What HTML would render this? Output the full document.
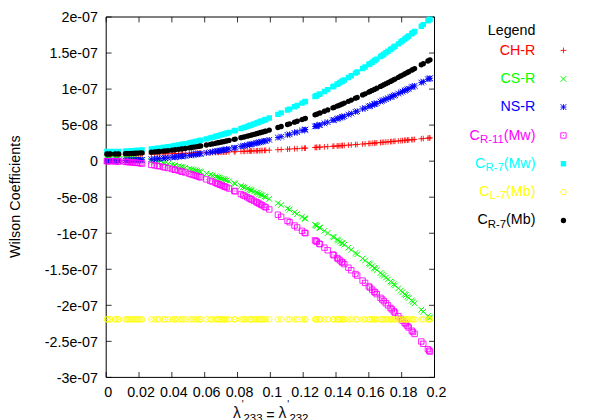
<!DOCTYPE html>
<html><head><meta charset="utf-8"><title>plot</title>
<style>
html,body{margin:0;padding:0;background:#fff;}
body{width:600px;height:420px;position:relative;overflow:hidden;font-family:"Liberation Sans",sans-serif;font-size:14.25px;color:#000;}
.t{position:absolute;white-space:nowrap;line-height:16px;height:16px;}
.yl{right:502.1px;text-align:right;}
.xl{width:60px;text-align:center;}
.lg{right:64.6px;text-align:right;}
.s{font-size:11.4px;position:relative;top:3.4px;}
</style></head><body>
<svg width="600" height="420" viewBox="0 0 600 420" style="position:absolute;left:0;top:0">
<path d="M106.2 17H434.5V377.4H106.2Z" fill="none" stroke="#000" stroke-width="1"/>
<path d="M106.2 17.00h5.4 M434.5 17.00h-5.4M106.20 377.4v-5.4 M106.20 17v5.4M106.2 53.04h5.4 M434.5 53.04h-5.4M139.03 377.4v-5.4 M139.03 17v5.4M106.2 89.08h5.4 M434.5 89.08h-5.4M171.86 377.4v-5.4 M171.86 17v5.4M106.2 125.12h5.4 M434.5 125.12h-5.4M204.69 377.4v-5.4 M204.69 17v5.4M106.2 161.16h5.4 M434.5 161.16h-5.4M237.52 377.4v-5.4 M237.52 17v5.4M106.2 197.20h5.4 M434.5 197.20h-5.4M270.35 377.4v-5.4 M270.35 17v5.4M106.2 233.24h5.4 M434.5 233.24h-5.4M303.18 377.4v-5.4 M303.18 17v5.4M106.2 269.28h5.4 M434.5 269.28h-5.4M336.01 377.4v-5.4 M336.01 17v5.4M106.2 305.32h5.4 M434.5 305.32h-5.4M368.84 377.4v-5.4 M368.84 17v5.4M106.2 341.36h5.4 M434.5 341.36h-5.4M401.67 377.4v-5.4 M401.67 17v5.4M106.2 377.40h5.4 M434.5 377.40h-5.4M434.50 377.4v-5.4 M434.50 17v5.4" fill="none" stroke="#000" stroke-width="0.8"/>
<path d="M104.05 154.31h5.7M106.9 151.46v5.7M104.75 154.31h5.7M107.6 151.46v5.7M106.85 154.31h5.7M109.7 151.46v5.7M107.45 154.31h5.7M110.3 151.46v5.7M112.05 154.3h5.7M114.9 151.45v5.7M112.75 154.3h5.7M115.6 151.45v5.7M114.95 154.29h5.7M117.8 151.44v5.7M115.85 154.29h5.7M118.7 151.44v5.7M122.55 154.25h5.7M125.4 151.4v5.7M124.15 154.24h5.7M127 151.39v5.7M125.25 154.24h5.7M128.1 151.39v5.7M126.75 154.23h5.7M129.6 151.38v5.7M128.65 154.21h5.7M131.5 151.36v5.7M130.55 154.2h5.7M133.4 151.35v5.7M132.35 154.18h5.7M135.2 151.33v5.7M133.85 154.17h5.7M136.7 151.32v5.7M135.45 154.15h5.7M138.3 151.3v5.7M137.55 154.13h5.7M140.4 151.28v5.7M139.25 154.11h5.7M142.1 151.26v5.7M148.45 153.99h5.7M151.3 151.14v5.7M151.65 153.95h5.7M154.5 151.1v5.7M154.45 153.9h5.7M157.3 151.05v5.7M156.45 153.87h5.7M159.3 151.02v5.7M160.35 153.8h5.7M163.2 150.95v5.7M162.15 153.77h5.7M165 150.92v5.7M165.15 153.71h5.7M168 150.86v5.7M169.15 153.63h5.7M172 150.78v5.7M171.85 153.58h5.7M174.7 150.73v5.7M172.35 153.57h5.7M175.2 150.72v5.7M175.65 153.49h5.7M178.5 150.64v5.7M178.45 153.43h5.7M181.3 150.58v5.7M179.65 153.4h5.7M182.5 150.55v5.7M182.45 153.33h5.7M185.3 150.48v5.7M186.55 153.23h5.7M189.4 150.38v5.7M188.65 153.17h5.7M191.5 150.32v5.7M190.65 153.12h5.7M193.5 150.27v5.7M192.75 153.06h5.7M195.6 150.21v5.7M194.45 153.01h5.7M197.3 150.16v5.7M196.45 152.96h5.7M199.3 150.11v5.7M197.85 152.91h5.7M200.7 150.06v5.7M203.55 152.74h5.7M206.4 149.89v5.7M207.45 152.62h5.7M210.3 149.77v5.7M209.55 152.55h5.7M212.4 149.7v5.7M212.65 152.44h5.7M215.5 149.59v5.7M214.35 152.38h5.7M217.2 149.53v5.7M215.65 152.34h5.7M218.5 149.49v5.7M217.35 152.28h5.7M220.2 149.43v5.7M219.05 152.22h5.7M221.9 149.37v5.7M220.75 152.16h5.7M223.6 149.31v5.7M222.15 152.1h5.7M225 149.25v5.7M223.75 152.04h5.7M226.6 149.19v5.7M226.15 151.95h5.7M229 149.1v5.7M231.35 151.75h5.7M234.2 148.9v5.7M232.35 151.71h5.7M235.2 148.86v5.7M238.05 151.47h5.7M240.9 148.62v5.7M240.35 151.38h5.7M243.2 148.53v5.7M241.85 151.31h5.7M244.7 148.46v5.7M244.35 151.2h5.7M247.2 148.35v5.7M246.45 151.11h5.7M249.3 148.26v5.7M247.75 151.05h5.7M250.6 148.2v5.7M248.85 151h5.7M251.7 148.15v5.7M251.15 150.89h5.7M254 148.04v5.7M253.45 150.79h5.7M256.3 147.94v5.7M254.65 150.73h5.7M257.5 147.88v5.7M256.45 150.64h5.7M259.3 147.79v5.7M258.15 150.56h5.7M261 147.71v5.7M259.35 150.5h5.7M262.2 147.65v5.7M261.65 150.39h5.7M264.5 147.54v5.7M262.85 150.33h5.7M265.7 147.48v5.7M266.45 150.15h5.7M269.3 147.3v5.7M275.05 149.7h5.7M277.9 146.85v5.7M278.35 149.52h5.7M281.2 146.67v5.7M284.65 149.17h5.7M287.5 146.32v5.7M286.75 149.05h5.7M289.6 146.2v5.7M291.65 148.76h5.7M294.5 145.91v5.7M294.35 148.6h5.7M297.2 145.75v5.7M299.15 148.31h5.7M302 145.46v5.7M301.75 148.15h5.7M304.6 145.3v5.7M302.55 148.1h5.7M305.4 145.25v5.7M312.15 147.49h5.7M315 144.64v5.7M313.15 147.42h5.7M316 144.57v5.7M313.95 147.37h5.7M316.8 144.52v5.7M316.45 147.21h5.7M319.3 144.36v5.7M317.15 147.16h5.7M320 144.31v5.7M321.55 146.86h5.7M324.4 144.01v5.7M324.85 146.63h5.7M327.7 143.78v5.7M330.05 146.27h5.7M332.9 143.42v5.7M331.05 146.2h5.7M333.9 143.35v5.7M334.25 145.97h5.7M337.1 143.12v5.7M335.35 145.89h5.7M338.2 143.04v5.7M337.15 145.76h5.7M340 142.91v5.7M338.95 145.63h5.7M341.8 142.78v5.7M339.65 145.57h5.7M342.5 142.72v5.7M341.45 145.44h5.7M344.3 142.59v5.7M345.55 145.13h5.7M348.4 142.28v5.7M348.45 144.91h5.7M351.3 142.06v5.7M352.65 144.59h5.7M355.5 141.74v5.7M354.35 144.45h5.7M357.2 141.6v5.7M359.75 144.02h5.7M362.6 141.17v5.7M362.25 143.82h5.7M365.1 140.97v5.7M365.95 143.52h5.7M368.8 140.67v5.7M367.15 143.42h5.7M370 140.57v5.7M369.35 143.24h5.7M372.2 140.39v5.7M371.45 143.06h5.7M374.3 140.21v5.7M372.25 143h5.7M375.1 140.15v5.7M373.95 142.85h5.7M376.8 140v5.7M377.65 142.54h5.7M380.5 139.69v5.7M379.35 142.39h5.7M382.2 139.54v5.7M380.95 142.25h5.7M383.8 139.4v5.7M383.05 142.07h5.7M385.9 139.22v5.7M385.15 141.89h5.7M388 139.04v5.7M387.65 141.66h5.7M390.5 138.81v5.7M388.95 141.55h5.7M391.8 138.7v5.7M390.95 141.37h5.7M393.8 138.52v5.7M392.15 141.26h5.7M395 138.41v5.7M395.45 140.96h5.7M398.3 138.11v5.7M397.95 140.73h5.7M400.8 137.88v5.7M399.65 140.57h5.7M402.5 137.72v5.7M401.75 140.38h5.7M404.6 137.53v5.7M402.95 140.27h5.7M405.8 137.42v5.7M404.65 140.11h5.7M407.5 137.26v5.7M405.95 139.98h5.7M408.8 137.13v5.7M408.85 139.71h5.7M411.7 136.86v5.7M410.05 139.59h5.7M412.9 136.74v5.7M411.75 139.43h5.7M414.6 136.58v5.7M418.45 138.77h5.7M421.3 135.92v5.7M420.45 138.58h5.7M423.3 135.73v5.7M425.05 138.12h5.7M427.9 135.27v5.7M426.35 137.99h5.7M429.2 135.14v5.7M427.15 137.9h5.7M430 135.05v5.7M560.6 50.4h5.7M563.45 47.55v5.7" fill="none" stroke="#ff0000" stroke-width="0.85"/>
<path d="M104.05 155.43l5.7 5.7M104.05 161.13l5.7 -5.7M104.75 155.43l5.7 5.7M104.75 161.13l5.7 -5.7M106.85 155.45l5.7 5.7M106.85 161.15l5.7 -5.7M107.45 155.45l5.7 5.7M107.45 161.15l5.7 -5.7M112.05 155.54l5.7 5.7M112.05 161.24l5.7 -5.7M112.75 155.56l5.7 5.7M112.75 161.26l5.7 -5.7M114.95 155.63l5.7 5.7M114.95 161.33l5.7 -5.7M115.85 155.67l5.7 5.7M115.85 161.37l5.7 -5.7M122.55 155.99l5.7 5.7M122.55 161.69l5.7 -5.7M124.15 156.09l5.7 5.7M124.15 161.79l5.7 -5.7M125.25 156.16l5.7 5.7M125.25 161.86l5.7 -5.7M126.75 156.26l5.7 5.7M126.75 161.96l5.7 -5.7M128.65 156.4l5.7 5.7M128.65 162.1l5.7 -5.7M130.55 156.55l5.7 5.7M130.55 162.25l5.7 -5.7M132.35 156.71l5.7 5.7M132.35 162.41l5.7 -5.7M133.85 156.85l5.7 5.7M133.85 162.55l5.7 -5.7M135.45 157l5.7 5.7M135.45 162.7l5.7 -5.7M137.55 157.21l5.7 5.7M137.55 162.91l5.7 -5.7M139.25 157.39l5.7 5.7M139.25 163.09l5.7 -5.7M148.45 158.53l5.7 5.7M148.45 164.23l5.7 -5.7M151.65 158.98l5.7 5.7M151.65 164.68l5.7 -5.7M154.45 159.41l5.7 5.7M154.45 165.11l5.7 -5.7M156.45 159.73l5.7 5.7M156.45 165.43l5.7 -5.7M160.35 160.38l5.7 5.7M160.35 166.08l5.7 -5.7M162.15 160.7l5.7 5.7M162.15 166.4l5.7 -5.7M165.15 161.25l5.7 5.7M165.15 166.95l5.7 -5.7M169.15 162.03l5.7 5.7M169.15 167.73l5.7 -5.7M171.85 162.58l5.7 5.7M171.85 168.28l5.7 -5.7M172.35 162.69l5.7 5.7M172.35 168.39l5.7 -5.7M175.65 163.4l5.7 5.7M175.65 169.1l5.7 -5.7M178.45 164.03l5.7 5.7M178.45 169.73l5.7 -5.7M179.65 164.3l5.7 5.7M179.65 170l5.7 -5.7M182.45 164.97l5.7 5.7M182.45 170.67l5.7 -5.7M186.55 165.98l5.7 5.7M186.55 171.68l5.7 -5.7M188.65 166.52l5.7 5.7M188.65 172.22l5.7 -5.7M190.65 167.05l5.7 5.7M190.65 172.75l5.7 -5.7M192.75 167.61l5.7 5.7M192.75 173.31l5.7 -5.7M194.45 168.08l5.7 5.7M194.45 173.78l5.7 -5.7M196.45 168.64l5.7 5.7M196.45 174.34l5.7 -5.7M197.85 169.04l5.7 5.7M197.85 174.74l5.7 -5.7M203.55 170.74l5.7 5.7M203.55 176.44l5.7 -5.7M207.45 171.95l5.7 5.7M207.45 177.65l5.7 -5.7M209.55 172.62l5.7 5.7M209.55 178.32l5.7 -5.7M212.65 173.64l5.7 5.7M212.65 179.34l5.7 -5.7M214.35 174.21l5.7 5.7M214.35 179.91l5.7 -5.7M215.65 174.66l5.7 5.7M215.65 180.36l5.7 -5.7M217.35 175.24l5.7 5.7M217.35 180.94l5.7 -5.7M219.05 175.84l5.7 5.7M219.05 181.54l5.7 -5.7M220.75 176.44l5.7 5.7M220.75 182.14l5.7 -5.7M222.15 176.95l5.7 5.7M222.15 182.65l5.7 -5.7M223.75 177.53l5.7 5.7M223.75 183.23l5.7 -5.7M226.15 178.42l5.7 5.7M226.15 184.12l5.7 -5.7M231.35 180.41l5.7 5.7M231.35 186.11l5.7 -5.7M232.35 180.8l5.7 5.7M232.35 186.5l5.7 -5.7M238.05 183.09l5.7 5.7M238.05 188.79l5.7 -5.7M240.35 184.05l5.7 5.7M240.35 189.75l5.7 -5.7M241.85 184.68l5.7 5.7M241.85 190.38l5.7 -5.7M244.35 185.74l5.7 5.7M244.35 191.44l5.7 -5.7M246.45 186.65l5.7 5.7M246.45 192.35l5.7 -5.7M247.75 187.22l5.7 5.7M247.75 192.92l5.7 -5.7M248.85 187.71l5.7 5.7M248.85 193.41l5.7 -5.7M251.15 188.74l5.7 5.7M251.15 194.44l5.7 -5.7M253.45 189.78l5.7 5.7M253.45 195.48l5.7 -5.7M254.65 190.33l5.7 5.7M254.65 196.03l5.7 -5.7M256.45 191.17l5.7 5.7M256.45 196.87l5.7 -5.7M258.15 191.97l5.7 5.7M258.15 197.67l5.7 -5.7M259.35 192.53l5.7 5.7M259.35 198.23l5.7 -5.7M261.65 193.64l5.7 5.7M261.65 199.34l5.7 -5.7M262.85 194.22l5.7 5.7M262.85 199.92l5.7 -5.7M266.45 195.99l5.7 5.7M266.45 201.69l5.7 -5.7M275.05 200.38l5.7 5.7M275.05 206.08l5.7 -5.7M278.35 202.12l5.7 5.7M278.35 207.82l5.7 -5.7M284.65 205.55l5.7 5.7M284.65 211.25l5.7 -5.7M286.75 206.71l5.7 5.7M286.75 212.41l5.7 -5.7M291.65 209.49l5.7 5.7M291.65 215.19l5.7 -5.7M294.35 211.05l5.7 5.7M294.35 216.75l5.7 -5.7M299.15 213.88l5.7 5.7M299.15 219.58l5.7 -5.7M301.75 215.45l5.7 5.7M301.75 221.15l5.7 -5.7M302.55 215.93l5.7 5.7M302.55 221.63l5.7 -5.7M312.15 221.9l5.7 5.7M312.15 227.6l5.7 -5.7M313.15 222.54l5.7 5.7M313.15 228.24l5.7 -5.7M313.95 223.05l5.7 5.7M313.95 228.75l5.7 -5.7M316.45 224.67l5.7 5.7M316.45 230.37l5.7 -5.7M317.15 225.13l5.7 5.7M317.15 230.83l5.7 -5.7M321.55 228.02l5.7 5.7M321.55 233.72l5.7 -5.7M324.85 230.24l5.7 5.7M324.85 235.94l5.7 -5.7M330.05 233.79l5.7 5.7M330.05 239.49l5.7 -5.7M331.05 234.48l5.7 5.7M331.05 240.18l5.7 -5.7M334.25 236.72l5.7 5.7M334.25 242.42l5.7 -5.7M335.35 237.5l5.7 5.7M335.35 243.2l5.7 -5.7M337.15 238.78l5.7 5.7M337.15 244.48l5.7 -5.7M338.95 240.06l5.7 5.7M338.95 245.76l5.7 -5.7M339.65 240.57l5.7 5.7M339.65 246.27l5.7 -5.7M341.45 241.87l5.7 5.7M341.45 247.57l5.7 -5.7M345.55 244.87l5.7 5.7M345.55 250.57l5.7 -5.7M348.45 247.03l5.7 5.7M348.45 252.73l5.7 -5.7M352.65 250.19l5.7 5.7M352.65 255.89l5.7 -5.7M354.35 251.49l5.7 5.7M354.35 257.19l5.7 -5.7M359.75 255.67l5.7 5.7M359.75 261.37l5.7 -5.7M362.25 257.63l5.7 5.7M362.25 263.33l5.7 -5.7M365.95 260.57l5.7 5.7M365.95 266.27l5.7 -5.7M367.15 261.54l5.7 5.7M367.15 267.24l5.7 -5.7M369.35 263.31l5.7 5.7M369.35 269.01l5.7 -5.7M371.45 265.02l5.7 5.7M371.45 270.72l5.7 -5.7M372.25 265.68l5.7 5.7M372.25 271.38l5.7 -5.7M373.95 267.08l5.7 5.7M373.95 272.78l5.7 -5.7M377.65 270.15l5.7 5.7M377.65 275.85l5.7 -5.7M379.35 271.58l5.7 5.7M379.35 277.28l5.7 -5.7M380.95 272.93l5.7 5.7M380.95 278.63l5.7 -5.7M383.05 274.71l5.7 5.7M383.05 280.41l5.7 -5.7M385.15 276.51l5.7 5.7M385.15 282.21l5.7 -5.7M387.65 278.67l5.7 5.7M387.65 284.37l5.7 -5.7M388.95 279.8l5.7 5.7M388.95 285.5l5.7 -5.7M390.95 281.55l5.7 5.7M390.95 287.25l5.7 -5.7M392.15 282.6l5.7 5.7M392.15 288.3l5.7 -5.7M395.45 285.52l5.7 5.7M395.45 291.22l5.7 -5.7M397.95 287.76l5.7 5.7M397.95 293.46l5.7 -5.7M399.65 289.29l5.7 5.7M399.65 294.99l5.7 -5.7M401.75 291.2l5.7 5.7M401.75 296.9l5.7 -5.7M402.95 292.29l5.7 5.7M402.95 297.99l5.7 -5.7M404.65 293.85l5.7 5.7M404.65 299.55l5.7 -5.7M405.95 295.05l5.7 5.7M405.95 300.75l5.7 -5.7M408.85 297.74l5.7 5.7M408.85 303.44l5.7 -5.7M410.05 298.86l5.7 5.7M410.05 304.56l5.7 -5.7M411.75 300.45l5.7 5.7M411.75 306.15l5.7 -5.7M418.45 306.82l5.7 5.7M418.45 312.52l5.7 -5.7M420.45 308.75l5.7 5.7M420.45 314.45l5.7 -5.7M425.05 313.23l5.7 5.7M425.05 318.93l5.7 -5.7M426.35 314.51l5.7 5.7M426.35 320.21l5.7 -5.7M427.15 315.29l5.7 5.7M427.15 320.99l5.7 -5.7M560.6 76.1l5.7 5.7M560.6 81.8l5.7 -5.7" fill="none" stroke="#00ff00" stroke-width="1.0"/>
<path d="M104.05 160.8h5.7M106.9 157.95v5.7M104.05 157.95l5.7 5.7M104.05 163.65l5.7 -5.7M104.75 160.8h5.7M107.6 157.95v5.7M104.75 157.95l5.7 5.7M104.75 163.65l5.7 -5.7M106.85 160.79h5.7M109.7 157.94v5.7M106.85 157.94l5.7 5.7M106.85 163.64l5.7 -5.7M107.45 160.79h5.7M110.3 157.94v5.7M107.45 157.94l5.7 5.7M107.45 163.64l5.7 -5.7M112.05 160.74h5.7M114.9 157.89v5.7M112.05 157.89l5.7 5.7M112.05 163.59l5.7 -5.7M112.75 160.73h5.7M115.6 157.88v5.7M112.75 157.88l5.7 5.7M112.75 163.58l5.7 -5.7M114.95 160.69h5.7M117.8 157.84v5.7M114.95 157.84l5.7 5.7M114.95 163.54l5.7 -5.7M115.85 160.68h5.7M118.7 157.83v5.7M115.85 157.83l5.7 5.7M115.85 163.53l5.7 -5.7M122.55 160.51h5.7M125.4 157.66v5.7M122.55 157.66l5.7 5.7M122.55 163.36l5.7 -5.7M124.15 160.46h5.7M127 157.61v5.7M124.15 157.61l5.7 5.7M124.15 163.31l5.7 -5.7M125.25 160.42h5.7M128.1 157.57v5.7M125.25 157.57l5.7 5.7M125.25 163.27l5.7 -5.7M126.75 160.37h5.7M129.6 157.52v5.7M126.75 157.52l5.7 5.7M126.75 163.22l5.7 -5.7M128.65 160.3h5.7M131.5 157.45v5.7M128.65 157.45l5.7 5.7M128.65 163.15l5.7 -5.7M130.55 160.22h5.7M133.4 157.37v5.7M130.55 157.37l5.7 5.7M130.55 163.07l5.7 -5.7M132.35 160.14h5.7M135.2 157.29v5.7M132.35 157.29l5.7 5.7M132.35 162.99l5.7 -5.7M133.85 160.07h5.7M136.7 157.22v5.7M133.85 157.22l5.7 5.7M133.85 162.92l5.7 -5.7M135.45 159.99h5.7M138.3 157.14v5.7M135.45 157.14l5.7 5.7M135.45 162.84l5.7 -5.7M137.55 159.88h5.7M140.4 157.03v5.7M137.55 157.03l5.7 5.7M137.55 162.73l5.7 -5.7M139.25 159.78h5.7M142.1 156.93v5.7M139.25 156.93l5.7 5.7M139.25 162.63l5.7 -5.7M148.45 159.2h5.7M151.3 156.35v5.7M148.45 156.35l5.7 5.7M148.45 162.05l5.7 -5.7M151.65 158.96h5.7M154.5 156.11v5.7M151.65 156.11l5.7 5.7M151.65 161.81l5.7 -5.7M154.45 158.74h5.7M157.3 155.89v5.7M154.45 155.89l5.7 5.7M154.45 161.59l5.7 -5.7M156.45 158.58h5.7M159.3 155.73v5.7M156.45 155.73l5.7 5.7M156.45 161.43l5.7 -5.7M160.35 158.24h5.7M163.2 155.39v5.7M160.35 155.39l5.7 5.7M160.35 161.09l5.7 -5.7M162.15 158.08h5.7M165 155.23v5.7M162.15 155.23l5.7 5.7M162.15 160.93l5.7 -5.7M165.15 157.79h5.7M168 154.94v5.7M165.15 154.94l5.7 5.7M165.15 160.64l5.7 -5.7M169.15 157.39h5.7M172 154.54v5.7M169.15 154.54l5.7 5.7M169.15 160.24l5.7 -5.7M171.85 157.1h5.7M174.7 154.25v5.7M171.85 154.25l5.7 5.7M171.85 159.95l5.7 -5.7M172.35 157.05h5.7M175.2 154.2v5.7M172.35 154.2l5.7 5.7M172.35 159.9l5.7 -5.7M175.65 156.68h5.7M178.5 153.83v5.7M175.65 153.83l5.7 5.7M175.65 159.53l5.7 -5.7M178.45 156.36h5.7M181.3 153.51v5.7M178.45 153.51l5.7 5.7M178.45 159.21l5.7 -5.7M179.65 156.21h5.7M182.5 153.36v5.7M179.65 153.36l5.7 5.7M179.65 159.06l5.7 -5.7M182.45 155.87h5.7M185.3 153.02v5.7M182.45 153.02l5.7 5.7M182.45 158.72l5.7 -5.7M186.55 155.35h5.7M189.4 152.5v5.7M186.55 152.5l5.7 5.7M186.55 158.2l5.7 -5.7M188.65 155.07h5.7M191.5 152.22v5.7M188.65 152.22l5.7 5.7M188.65 157.92l5.7 -5.7M190.65 154.8h5.7M193.5 151.95v5.7M190.65 151.95l5.7 5.7M190.65 157.65l5.7 -5.7M192.75 154.5h5.7M195.6 151.65v5.7M192.75 151.65l5.7 5.7M192.75 157.35l5.7 -5.7M194.45 154.26h5.7M197.3 151.41v5.7M194.45 151.41l5.7 5.7M194.45 157.11l5.7 -5.7M196.45 153.97h5.7M199.3 151.12v5.7M196.45 151.12l5.7 5.7M196.45 156.82l5.7 -5.7M197.85 153.76h5.7M200.7 150.91v5.7M197.85 150.91l5.7 5.7M197.85 156.61l5.7 -5.7M203.55 152.89h5.7M206.4 150.04v5.7M203.55 150.04l5.7 5.7M203.55 155.74l5.7 -5.7M207.45 152.26h5.7M210.3 149.41v5.7M207.45 149.41l5.7 5.7M207.45 155.11l5.7 -5.7M209.55 151.91h5.7M212.4 149.06v5.7M209.55 149.06l5.7 5.7M209.55 154.76l5.7 -5.7M212.65 151.39h5.7M215.5 148.54v5.7M212.65 148.54l5.7 5.7M212.65 154.24l5.7 -5.7M214.35 151.09h5.7M217.2 148.24v5.7M214.35 148.24l5.7 5.7M214.35 153.94l5.7 -5.7M215.65 150.86h5.7M218.5 148.01v5.7M215.65 148.01l5.7 5.7M215.65 153.71l5.7 -5.7M217.35 150.56h5.7M220.2 147.71v5.7M217.35 147.71l5.7 5.7M217.35 153.41l5.7 -5.7M219.05 150.25h5.7M221.9 147.4v5.7M219.05 147.4l5.7 5.7M219.05 153.1l5.7 -5.7M220.75 149.94h5.7M223.6 147.09v5.7M220.75 147.09l5.7 5.7M220.75 152.79l5.7 -5.7M222.15 149.68h5.7M225 146.83v5.7M222.15 146.83l5.7 5.7M222.15 152.53l5.7 -5.7M223.75 149.38h5.7M226.6 146.53v5.7M223.75 146.53l5.7 5.7M223.75 152.23l5.7 -5.7M226.15 148.92h5.7M229 146.07v5.7M226.15 146.07l5.7 5.7M226.15 151.77l5.7 -5.7M231.35 147.89h5.7M234.2 145.04v5.7M231.35 145.04l5.7 5.7M231.35 150.74l5.7 -5.7M232.35 147.69h5.7M235.2 144.84v5.7M232.35 144.84l5.7 5.7M232.35 150.54l5.7 -5.7M238.05 146.51h5.7M240.9 143.66v5.7M238.05 143.66l5.7 5.7M238.05 149.36l5.7 -5.7M240.35 146.01h5.7M243.2 143.16v5.7M240.35 143.16l5.7 5.7M240.35 148.86l5.7 -5.7M241.85 145.69h5.7M244.7 142.84v5.7M241.85 142.84l5.7 5.7M241.85 148.54l5.7 -5.7M244.35 145.14h5.7M247.2 142.29v5.7M244.35 142.29l5.7 5.7M244.35 147.99l5.7 -5.7M246.45 144.67h5.7M249.3 141.82v5.7M246.45 141.82l5.7 5.7M246.45 147.52l5.7 -5.7M247.75 144.37h5.7M250.6 141.52v5.7M247.75 141.52l5.7 5.7M247.75 147.22l5.7 -5.7M248.85 144.12h5.7M251.7 141.27v5.7M248.85 141.27l5.7 5.7M248.85 146.97l5.7 -5.7M251.15 143.59h5.7M254 140.74v5.7M251.15 140.74l5.7 5.7M251.15 146.44l5.7 -5.7M253.45 143.05h5.7M256.3 140.2v5.7M253.45 140.2l5.7 5.7M253.45 145.9l5.7 -5.7M254.65 142.77h5.7M257.5 139.92v5.7M254.65 139.92l5.7 5.7M254.65 145.62l5.7 -5.7M256.45 142.33h5.7M259.3 139.48v5.7M256.45 139.48l5.7 5.7M256.45 145.18l5.7 -5.7M258.15 141.92h5.7M261 139.07v5.7M258.15 139.07l5.7 5.7M258.15 144.77l5.7 -5.7M259.35 141.63h5.7M262.2 138.78v5.7M259.35 138.78l5.7 5.7M259.35 144.48l5.7 -5.7M261.65 141.06h5.7M264.5 138.21v5.7M261.65 138.21l5.7 5.7M261.65 143.91l5.7 -5.7M262.85 140.76h5.7M265.7 137.91v5.7M262.85 137.91l5.7 5.7M262.85 143.61l5.7 -5.7M266.45 139.84h5.7M269.3 136.99v5.7M266.45 136.99l5.7 5.7M266.45 142.69l5.7 -5.7M275.05 137.57h5.7M277.9 134.72v5.7M275.05 134.72l5.7 5.7M275.05 140.42l5.7 -5.7M278.35 136.67h5.7M281.2 133.82v5.7M278.35 133.82l5.7 5.7M278.35 139.52l5.7 -5.7M284.65 134.9h5.7M287.5 132.05v5.7M284.65 132.05l5.7 5.7M284.65 137.75l5.7 -5.7M286.75 134.3h5.7M289.6 131.45v5.7M286.75 131.45l5.7 5.7M286.75 137.15l5.7 -5.7M291.65 132.87h5.7M294.5 130.02v5.7M291.65 130.02l5.7 5.7M291.65 135.72l5.7 -5.7M294.35 132.06h5.7M297.2 129.21v5.7M294.35 129.21l5.7 5.7M294.35 134.91l5.7 -5.7M299.15 130.6h5.7M302 127.75v5.7M299.15 127.75l5.7 5.7M299.15 133.45l5.7 -5.7M301.75 129.79h5.7M304.6 126.94v5.7M301.75 126.94l5.7 5.7M301.75 132.64l5.7 -5.7M302.55 129.54h5.7M305.4 126.69v5.7M302.55 126.69l5.7 5.7M302.55 132.39l5.7 -5.7M312.15 126.45h5.7M315 123.6v5.7M312.15 123.6l5.7 5.7M312.15 129.3l5.7 -5.7M313.15 126.12h5.7M316 123.27v5.7M313.15 123.27l5.7 5.7M313.15 128.97l5.7 -5.7M313.95 125.86h5.7M316.8 123.01v5.7M313.95 123.01l5.7 5.7M313.95 128.71l5.7 -5.7M316.45 125.02h5.7M319.3 122.17v5.7M316.45 122.17l5.7 5.7M316.45 127.87l5.7 -5.7M317.15 124.79h5.7M320 121.94v5.7M317.15 121.94l5.7 5.7M317.15 127.64l5.7 -5.7M321.55 123.29h5.7M324.4 120.44v5.7M321.55 120.44l5.7 5.7M321.55 126.14l5.7 -5.7M324.85 122.15h5.7M327.7 119.3v5.7M324.85 119.3l5.7 5.7M324.85 125l5.7 -5.7M330.05 120.31h5.7M332.9 117.46v5.7M330.05 117.46l5.7 5.7M330.05 123.16l5.7 -5.7M331.05 119.95h5.7M333.9 117.1v5.7M331.05 117.1l5.7 5.7M331.05 122.8l5.7 -5.7M334.25 118.8h5.7M337.1 115.95v5.7M334.25 115.95l5.7 5.7M334.25 121.65l5.7 -5.7M335.35 118.4h5.7M338.2 115.55v5.7M335.35 115.55l5.7 5.7M335.35 121.25l5.7 -5.7M337.15 117.74h5.7M340 114.89v5.7M337.15 114.89l5.7 5.7M337.15 120.59l5.7 -5.7M338.95 117.07h5.7M341.8 114.22v5.7M338.95 114.22l5.7 5.7M338.95 119.92l5.7 -5.7M339.65 116.81h5.7M342.5 113.96v5.7M339.65 113.96l5.7 5.7M339.65 119.66l5.7 -5.7M341.45 116.14h5.7M344.3 113.29v5.7M341.45 113.29l5.7 5.7M341.45 118.99l5.7 -5.7M345.55 114.59h5.7M348.4 111.74v5.7M345.55 111.74l5.7 5.7M345.55 117.44l5.7 -5.7M348.45 113.47h5.7M351.3 110.62v5.7M348.45 110.62l5.7 5.7M348.45 116.32l5.7 -5.7M352.65 111.84h5.7M355.5 108.99v5.7M352.65 108.99l5.7 5.7M352.65 114.69l5.7 -5.7M354.35 111.17h5.7M357.2 108.32v5.7M354.35 108.32l5.7 5.7M354.35 114.02l5.7 -5.7M359.75 109.01h5.7M362.6 106.16v5.7M359.75 106.16l5.7 5.7M359.75 111.86l5.7 -5.7M362.25 107.99h5.7M365.1 105.14v5.7M362.25 105.14l5.7 5.7M362.25 110.84l5.7 -5.7M365.95 106.47h5.7M368.8 103.62v5.7M365.95 103.62l5.7 5.7M365.95 109.32l5.7 -5.7M367.15 105.98h5.7M370 103.13v5.7M367.15 103.13l5.7 5.7M367.15 108.83l5.7 -5.7M369.35 105.06h5.7M372.2 102.21v5.7M369.35 102.21l5.7 5.7M369.35 107.91l5.7 -5.7M371.45 104.17h5.7M374.3 101.32v5.7M371.45 101.32l5.7 5.7M371.45 107.02l5.7 -5.7M372.25 103.84h5.7M375.1 100.99v5.7M372.25 100.99l5.7 5.7M372.25 106.69l5.7 -5.7M373.95 103.11h5.7M376.8 100.26v5.7M373.95 100.26l5.7 5.7M373.95 105.96l5.7 -5.7M377.65 101.52h5.7M380.5 98.67v5.7M377.65 98.67l5.7 5.7M377.65 104.37l5.7 -5.7M379.35 100.79h5.7M382.2 97.94v5.7M379.35 97.94l5.7 5.7M379.35 103.64l5.7 -5.7M380.95 100.09h5.7M383.8 97.24v5.7M380.95 97.24l5.7 5.7M380.95 102.94l5.7 -5.7M383.05 99.17h5.7M385.9 96.32v5.7M383.05 96.32l5.7 5.7M383.05 102.02l5.7 -5.7M385.15 98.24h5.7M388 95.39v5.7M385.15 95.39l5.7 5.7M385.15 101.09l5.7 -5.7M387.65 97.12h5.7M390.5 94.27v5.7M387.65 94.27l5.7 5.7M387.65 99.97l5.7 -5.7M388.95 96.54h5.7M391.8 93.69v5.7M388.95 93.69l5.7 5.7M388.95 99.39l5.7 -5.7M390.95 95.64h5.7M393.8 92.79v5.7M390.95 92.79l5.7 5.7M390.95 98.49l5.7 -5.7M392.15 95.09h5.7M395 92.24v5.7M392.15 92.24l5.7 5.7M392.15 97.94l5.7 -5.7M395.45 93.58h5.7M398.3 90.73v5.7M395.45 90.73l5.7 5.7M395.45 96.43l5.7 -5.7M397.95 92.43h5.7M400.8 89.58v5.7M397.95 89.58l5.7 5.7M397.95 95.28l5.7 -5.7M399.65 91.64h5.7M402.5 88.79v5.7M399.65 88.79l5.7 5.7M399.65 94.49l5.7 -5.7M401.75 90.65h5.7M404.6 87.8v5.7M401.75 87.8l5.7 5.7M401.75 93.5l5.7 -5.7M402.95 90.09h5.7M405.8 87.24v5.7M402.95 87.24l5.7 5.7M402.95 92.94l5.7 -5.7M404.65 89.28h5.7M407.5 86.43v5.7M404.65 86.43l5.7 5.7M404.65 92.13l5.7 -5.7M405.95 88.66h5.7M408.8 85.81v5.7M405.95 85.81l5.7 5.7M405.95 91.51l5.7 -5.7M408.85 87.27h5.7M411.7 84.42v5.7M408.85 84.42l5.7 5.7M408.85 90.12l5.7 -5.7M410.05 86.69h5.7M412.9 83.84v5.7M410.05 83.84l5.7 5.7M410.05 89.54l5.7 -5.7M411.75 85.87h5.7M414.6 83.02v5.7M411.75 83.02l5.7 5.7M411.75 88.72l5.7 -5.7M418.45 82.58h5.7M421.3 79.73v5.7M418.45 79.73l5.7 5.7M418.45 85.43l5.7 -5.7M420.45 81.58h5.7M423.3 78.73v5.7M420.45 78.73l5.7 5.7M420.45 84.43l5.7 -5.7M425.05 79.27h5.7M427.9 76.42v5.7M425.05 76.42l5.7 5.7M425.05 82.12l5.7 -5.7M426.35 78.61h5.7M429.2 75.76v5.7M426.35 75.76l5.7 5.7M426.35 81.46l5.7 -5.7M427.15 78.2h5.7M430 75.35v5.7M427.15 75.35l5.7 5.7M427.15 81.05l5.7 -5.7M560.6 107.05h5.7M563.45 104.2v5.7M560.6 104.2l5.7 5.7M560.6 109.9l5.7 -5.7" fill="none" stroke="#0000ff" stroke-width="0.95"/>
<path d="M104.2 158.46h5.4v5.4h-5.4zM106.55 161.16h0.7M104.9 158.46h5.4v5.4h-5.4zM107.25 161.16h0.7M107 158.48h5.4v5.4h-5.4zM109.35 161.18h0.7M107.6 158.49h5.4v5.4h-5.4zM109.95 161.19h0.7M112.2 158.6h5.4v5.4h-5.4zM114.55 161.3h0.7M112.9 158.62h5.4v5.4h-5.4zM115.25 161.32h0.7M115.1 158.7h5.4v5.4h-5.4zM117.45 161.4h0.7M116 158.74h5.4v5.4h-5.4zM118.35 161.44h0.7M122.7 159.13h5.4v5.4h-5.4zM125.05 161.83h0.7M124.3 159.25h5.4v5.4h-5.4zM126.65 161.95h0.7M125.4 159.33h5.4v5.4h-5.4zM127.75 162.03h0.7M126.9 159.45h5.4v5.4h-5.4zM129.25 162.15h0.7M128.8 159.62h5.4v5.4h-5.4zM131.15 162.32h0.7M130.7 159.8h5.4v5.4h-5.4zM133.05 162.5h0.7M132.5 159.99h5.4v5.4h-5.4zM134.85 162.69h0.7M134 160.15h5.4v5.4h-5.4zM136.35 162.85h0.7M135.6 160.33h5.4v5.4h-5.4zM137.95 163.03h0.7M137.7 160.58h5.4v5.4h-5.4zM140.05 163.28h0.7M139.4 160.8h5.4v5.4h-5.4zM141.75 163.5h0.7M148.6 162.15h5.4v5.4h-5.4zM150.95 164.85h0.7M151.8 162.7h5.4v5.4h-5.4zM154.15 165.4h0.7M154.6 163.2h5.4v5.4h-5.4zM156.95 165.9h0.7M156.6 163.58h5.4v5.4h-5.4zM158.95 166.28h0.7M160.5 164.36h5.4v5.4h-5.4zM162.85 167.06h0.7M162.3 164.74h5.4v5.4h-5.4zM164.65 167.44h0.7M165.3 165.4h5.4v5.4h-5.4zM167.65 168.1h0.7M169.3 166.32h5.4v5.4h-5.4zM171.65 169.02h0.7M172 166.98h5.4v5.4h-5.4zM174.35 169.68h0.7M172.5 167.11h5.4v5.4h-5.4zM174.85 169.81h0.7M175.8 167.95h5.4v5.4h-5.4zM178.15 170.65h0.7M178.6 168.7h5.4v5.4h-5.4zM180.95 171.4h0.7M179.8 169.03h5.4v5.4h-5.4zM182.15 171.73h0.7M182.6 169.82h5.4v5.4h-5.4zM184.95 172.52h0.7M186.7 171.03h5.4v5.4h-5.4zM189.05 173.73h0.7M188.8 171.68h5.4v5.4h-5.4zM191.15 174.38h0.7M190.8 172.3h5.4v5.4h-5.4zM193.15 175h0.7M192.9 172.98h5.4v5.4h-5.4zM195.25 175.68h0.7M194.6 173.53h5.4v5.4h-5.4zM196.95 176.23h0.7M196.6 174.2h5.4v5.4h-5.4zM198.95 176.9h0.7M198 174.68h5.4v5.4h-5.4zM200.35 177.38h0.7M203.7 176.7h5.4v5.4h-5.4zM206.05 179.4h0.7M207.6 178.14h5.4v5.4h-5.4zM209.95 180.84h0.7M209.7 178.95h5.4v5.4h-5.4zM212.05 181.65h0.7M212.8 180.16h5.4v5.4h-5.4zM215.15 182.86h0.7M214.5 180.84h5.4v5.4h-5.4zM216.85 183.54h0.7M215.8 181.37h5.4v5.4h-5.4zM218.15 184.07h0.7M217.5 182.07h5.4v5.4h-5.4zM219.85 184.77h0.7M219.2 182.77h5.4v5.4h-5.4zM221.55 185.47h0.7M220.9 183.49h5.4v5.4h-5.4zM223.25 186.19h0.7M222.3 184.1h5.4v5.4h-5.4zM224.65 186.8h0.7M223.9 184.79h5.4v5.4h-5.4zM226.25 187.49h0.7M226.3 185.85h5.4v5.4h-5.4zM228.65 188.55h0.7M231.5 188.22h5.4v5.4h-5.4zM233.85 190.92h0.7M232.5 188.69h5.4v5.4h-5.4zM234.85 191.39h0.7M238.2 191.42h5.4v5.4h-5.4zM240.55 194.12h0.7M240.5 192.55h5.4v5.4h-5.4zM242.85 195.25h0.7M242 193.3h5.4v5.4h-5.4zM244.35 196h0.7M244.5 194.57h5.4v5.4h-5.4zM246.85 197.27h0.7M246.6 195.65h5.4v5.4h-5.4zM248.95 198.35h0.7M247.9 196.33h5.4v5.4h-5.4zM250.25 199.03h0.7M249 196.91h5.4v5.4h-5.4zM251.35 199.61h0.7M251.3 198.14h5.4v5.4h-5.4zM253.65 200.84h0.7M253.6 199.38h5.4v5.4h-5.4zM255.95 202.08h0.7M254.8 200.04h5.4v5.4h-5.4zM257.15 202.74h0.7M256.6 201.03h5.4v5.4h-5.4zM258.95 203.73h0.7M258.3 201.99h5.4v5.4h-5.4zM260.65 204.69h0.7M259.5 202.66h5.4v5.4h-5.4zM261.85 205.36h0.7M261.8 203.98h5.4v5.4h-5.4zM264.15 206.68h0.7M263 204.67h5.4v5.4h-5.4zM265.35 207.37h0.7M266.6 206.78h5.4v5.4h-5.4zM268.95 209.48h0.7M275.2 212.01h5.4v5.4h-5.4zM277.55 214.71h0.7M278.5 214.09h5.4v5.4h-5.4zM280.85 216.79h0.7M284.8 218.16h5.4v5.4h-5.4zM287.15 220.86h0.7M286.9 219.55h5.4v5.4h-5.4zM289.25 222.25h0.7M291.8 222.86h5.4v5.4h-5.4zM294.15 225.56h0.7M294.5 224.72h5.4v5.4h-5.4zM296.85 227.42h0.7M299.3 228.1h5.4v5.4h-5.4zM301.65 230.8h0.7M301.9 229.96h5.4v5.4h-5.4zM304.25 232.66h0.7M302.7 230.53h5.4v5.4h-5.4zM305.05 233.23h0.7M312.3 237.65h5.4v5.4h-5.4zM314.65 240.35h0.7M313.3 238.41h5.4v5.4h-5.4zM315.65 241.11h0.7M314.1 239.02h5.4v5.4h-5.4zM316.45 241.72h0.7M316.6 240.94h5.4v5.4h-5.4zM318.95 243.64h0.7M317.3 241.49h5.4v5.4h-5.4zM319.65 244.19h0.7M321.7 244.94h5.4v5.4h-5.4zM324.05 247.64h0.7M325 247.57h5.4v5.4h-5.4zM327.35 250.27h0.7M330.2 251.81h5.4v5.4h-5.4zM332.55 254.51h0.7M331.2 252.63h5.4v5.4h-5.4zM333.55 255.33h0.7M334.4 255.3h5.4v5.4h-5.4zM336.75 258h0.7M335.5 256.22h5.4v5.4h-5.4zM337.85 258.92h0.7M337.3 257.75h5.4v5.4h-5.4zM339.65 260.45h0.7M339.1 259.28h5.4v5.4h-5.4zM341.45 261.98h0.7M339.8 259.88h5.4v5.4h-5.4zM342.15 262.58h0.7M341.6 261.43h5.4v5.4h-5.4zM343.95 264.13h0.7M345.7 265.01h5.4v5.4h-5.4zM348.05 267.71h0.7M348.6 267.58h5.4v5.4h-5.4zM350.95 270.28h0.7M352.8 271.35h5.4v5.4h-5.4zM355.15 274.05h0.7M354.5 272.89h5.4v5.4h-5.4zM356.85 275.59h0.7M359.9 277.87h5.4v5.4h-5.4zM362.25 280.57h0.7M362.4 280.21h5.4v5.4h-5.4zM364.75 282.91h0.7M366.1 283.71h5.4v5.4h-5.4zM368.45 286.41h0.7M367.3 284.86h5.4v5.4h-5.4zM369.65 287.56h0.7M369.5 286.98h5.4v5.4h-5.4zM371.85 289.68h0.7M371.6 289.02h5.4v5.4h-5.4zM373.95 291.72h0.7M372.4 289.8h5.4v5.4h-5.4zM374.75 292.5h0.7M374.1 291.46h5.4v5.4h-5.4zM376.45 294.16h0.7M377.8 295.12h5.4v5.4h-5.4zM380.15 297.82h0.7M379.5 296.82h5.4v5.4h-5.4zM381.85 299.52h0.7M381.1 298.43h5.4v5.4h-5.4zM383.45 301.13h0.7M383.2 300.56h5.4v5.4h-5.4zM385.55 303.26h0.7M385.3 302.7h5.4v5.4h-5.4zM387.65 305.4h0.7M387.8 305.27h5.4v5.4h-5.4zM390.15 307.97h0.7M389.1 306.62h5.4v5.4h-5.4zM391.45 309.32h0.7M391.1 308.7h5.4v5.4h-5.4zM393.45 311.4h0.7M392.3 309.95h5.4v5.4h-5.4zM394.65 312.65h0.7M395.6 313.44h5.4v5.4h-5.4zM397.95 316.14h0.7M398.1 316.1h5.4v5.4h-5.4zM400.45 318.8h0.7M399.8 317.93h5.4v5.4h-5.4zM402.15 320.63h0.7M401.9 320.19h5.4v5.4h-5.4zM404.25 322.89h0.7M403.1 321.5h5.4v5.4h-5.4zM405.45 324.2h0.7M404.8 323.35h5.4v5.4h-5.4zM407.15 326.05h0.7M406.1 324.78h5.4v5.4h-5.4zM408.45 327.48h0.7M409 327.98h5.4v5.4h-5.4zM411.35 330.68h0.7M410.2 329.32h5.4v5.4h-5.4zM412.55 332.02h0.7M411.9 331.22h5.4v5.4h-5.4zM414.25 333.92h0.7M418.6 338.8h5.4v5.4h-5.4zM420.95 341.5h0.7M420.6 341.1h5.4v5.4h-5.4zM422.95 343.8h0.7M425.2 346.44h5.4v5.4h-5.4zM427.55 349.14h0.7M426.5 347.96h5.4v5.4h-5.4zM428.85 350.66h0.7M427.3 348.9h5.4v5.4h-5.4zM429.65 351.6h0.7M560.75 132.8h5.4v5.4h-5.4zM563.1 135.5h0.7" fill="none" stroke="#ff00ff" stroke-width="0.85"/>
<path d="M104.2 148.87h5.4v5.4h-5.4zM104.9 148.87h5.4v5.4h-5.4zM107 148.86h5.4v5.4h-5.4zM107.6 148.85h5.4v5.4h-5.4zM112.2 148.78h5.4v5.4h-5.4zM112.9 148.76h5.4v5.4h-5.4zM115.1 148.7h5.4v5.4h-5.4zM116 148.68h5.4v5.4h-5.4zM122.7 148.41h5.4v5.4h-5.4zM124.3 148.33h5.4v5.4h-5.4zM125.4 148.27h5.4v5.4h-5.4zM126.9 148.18h5.4v5.4h-5.4zM128.8 148.07h5.4v5.4h-5.4zM130.7 147.94h5.4v5.4h-5.4zM132.5 147.81h5.4v5.4h-5.4zM134 147.7h5.4v5.4h-5.4zM135.6 147.57h5.4v5.4h-5.4zM137.7 147.4h5.4v5.4h-5.4zM139.4 147.25h5.4v5.4h-5.4zM148.6 146.31h5.4v5.4h-5.4zM151.8 145.93h5.4v5.4h-5.4zM154.6 145.58h5.4v5.4h-5.4zM156.6 145.31h5.4v5.4h-5.4zM160.5 144.77h5.4v5.4h-5.4zM162.3 144.51h5.4v5.4h-5.4zM165.3 144.05h5.4v5.4h-5.4zM169.3 143.41h5.4v5.4h-5.4zM172 142.95h5.4v5.4h-5.4zM172.5 142.86h5.4v5.4h-5.4zM175.8 142.27h5.4v5.4h-5.4zM178.6 141.75h5.4v5.4h-5.4zM179.8 141.52h5.4v5.4h-5.4zM182.6 140.97h5.4v5.4h-5.4zM186.7 140.13h5.4v5.4h-5.4zM188.8 139.69h5.4v5.4h-5.4zM190.8 139.25h5.4v5.4h-5.4zM192.9 138.78h5.4v5.4h-5.4zM194.6 138.39h5.4v5.4h-5.4zM196.6 137.93h5.4v5.4h-5.4zM198 137.6h5.4v5.4h-5.4zM203.7 136.2h5.4v5.4h-5.4zM207.6 135.19h5.4v5.4h-5.4zM209.7 134.63h5.4v5.4h-5.4zM212.8 133.79h5.4v5.4h-5.4zM214.5 133.32h5.4v5.4h-5.4zM215.8 132.95h5.4v5.4h-5.4zM217.5 132.46h5.4v5.4h-5.4zM219.2 131.97h5.4v5.4h-5.4zM220.9 131.47h5.4v5.4h-5.4zM222.3 131.05h5.4v5.4h-5.4zM223.9 130.57h5.4v5.4h-5.4zM226.3 129.83h5.4v5.4h-5.4zM231.5 128.19h5.4v5.4h-5.4zM232.5 127.86h5.4v5.4h-5.4zM238.2 125.96h5.4v5.4h-5.4zM240.5 125.18h5.4v5.4h-5.4zM242 124.65h5.4v5.4h-5.4zM244.5 123.77h5.4v5.4h-5.4zM246.6 123.02h5.4v5.4h-5.4zM247.9 122.55h5.4v5.4h-5.4zM249 122.14h5.4v5.4h-5.4zM251.3 121.29h5.4v5.4h-5.4zM253.6 120.43h5.4v5.4h-5.4zM254.8 119.97h5.4v5.4h-5.4zM256.6 119.28h5.4v5.4h-5.4zM258.3 118.62h5.4v5.4h-5.4zM259.5 118.15h5.4v5.4h-5.4zM261.8 117.23h5.4v5.4h-5.4zM263 116.75h5.4v5.4h-5.4zM266.6 115.29h5.4v5.4h-5.4zM275.2 111.65h5.4v5.4h-5.4zM278.5 110.21h5.4v5.4h-5.4zM284.8 107.37h5.4v5.4h-5.4zM286.9 106.4h5.4v5.4h-5.4zM291.8 104.1h5.4v5.4h-5.4zM294.5 102.81h5.4v5.4h-5.4zM299.3 100.47h5.4v5.4h-5.4zM301.9 99.17h5.4v5.4h-5.4zM302.7 98.77h5.4v5.4h-5.4zM312.3 93.83h5.4v5.4h-5.4zM313.3 93.3h5.4v5.4h-5.4zM314.1 92.87h5.4v5.4h-5.4zM316.6 91.54h5.4v5.4h-5.4zM317.3 91.16h5.4v5.4h-5.4zM321.7 88.76h5.4v5.4h-5.4zM325 86.93h5.4v5.4h-5.4zM330.2 83.98h5.4v5.4h-5.4zM331.2 83.41h5.4v5.4h-5.4zM334.4 81.56h5.4v5.4h-5.4zM335.5 80.91h5.4v5.4h-5.4zM337.3 79.86h5.4v5.4h-5.4zM339.1 78.79h5.4v5.4h-5.4zM339.8 78.37h5.4v5.4h-5.4zM341.6 77.29h5.4v5.4h-5.4zM345.7 74.81h5.4v5.4h-5.4zM348.6 73.02h5.4v5.4h-5.4zM352.8 70.4h5.4v5.4h-5.4zM354.5 69.33h5.4v5.4h-5.4zM359.9 65.87h5.4v5.4h-5.4zM362.4 64.24h5.4v5.4h-5.4zM366.1 61.8h5.4v5.4h-5.4zM367.3 61.01h5.4v5.4h-5.4zM369.5 59.53h5.4v5.4h-5.4zM371.6 58.12h5.4v5.4h-5.4zM372.4 57.58h5.4v5.4h-5.4zM374.1 56.42h5.4v5.4h-5.4zM377.8 53.87h5.4v5.4h-5.4zM379.5 52.69h5.4v5.4h-5.4zM381.1 51.57h5.4v5.4h-5.4zM383.2 50.1h5.4v5.4h-5.4zM385.3 48.61h5.4v5.4h-5.4zM387.8 46.82h5.4v5.4h-5.4zM389.1 45.88h5.4v5.4h-5.4zM391.1 44.44h5.4v5.4h-5.4zM392.3 43.56h5.4v5.4h-5.4zM395.6 41.14h5.4v5.4h-5.4zM398.1 39.29h5.4v5.4h-5.4zM399.8 38.02h5.4v5.4h-5.4zM401.9 36.45h5.4v5.4h-5.4zM403.1 35.54h5.4v5.4h-5.4zM404.8 34.25h5.4v5.4h-5.4zM406.1 33.26h5.4v5.4h-5.4zM409 31.03h5.4v5.4h-5.4zM410.2 30.1h5.4v5.4h-5.4zM411.9 28.78h5.4v5.4h-5.4zM418.6 23.51h5.4v5.4h-5.4zM420.6 21.91h5.4v5.4h-5.4zM425.2 18.2h5.4v5.4h-5.4zM426.5 17.14h5.4v5.4h-5.4zM427.3 16.49h5.4v5.4h-5.4zM560.75 161.1h5.4v5.4h-5.4z" fill="#00ffff" stroke="none"/>
<path d="M104.15 319.38a2.75 2.75 0 1 0 5.5 0a2.75 2.75 0 1 0 -5.5 0M106.55 319.38h0.7M104.85 319.38a2.75 2.75 0 1 0 5.5 0a2.75 2.75 0 1 0 -5.5 0M107.25 319.38h0.7M106.95 319.38a2.75 2.75 0 1 0 5.5 0a2.75 2.75 0 1 0 -5.5 0M109.35 319.38h0.7M107.55 319.38a2.75 2.75 0 1 0 5.5 0a2.75 2.75 0 1 0 -5.5 0M109.95 319.38h0.7M112.15 319.38a2.75 2.75 0 1 0 5.5 0a2.75 2.75 0 1 0 -5.5 0M114.55 319.38h0.7M112.85 319.38a2.75 2.75 0 1 0 5.5 0a2.75 2.75 0 1 0 -5.5 0M115.25 319.38h0.7M115.05 319.38a2.75 2.75 0 1 0 5.5 0a2.75 2.75 0 1 0 -5.5 0M117.45 319.38h0.7M115.95 319.38a2.75 2.75 0 1 0 5.5 0a2.75 2.75 0 1 0 -5.5 0M118.35 319.38h0.7M122.65 319.38a2.75 2.75 0 1 0 5.5 0a2.75 2.75 0 1 0 -5.5 0M125.05 319.38h0.7M124.25 319.38a2.75 2.75 0 1 0 5.5 0a2.75 2.75 0 1 0 -5.5 0M126.65 319.38h0.7M125.35 319.38a2.75 2.75 0 1 0 5.5 0a2.75 2.75 0 1 0 -5.5 0M127.75 319.38h0.7M126.85 319.38a2.75 2.75 0 1 0 5.5 0a2.75 2.75 0 1 0 -5.5 0M129.25 319.38h0.7M128.75 319.38a2.75 2.75 0 1 0 5.5 0a2.75 2.75 0 1 0 -5.5 0M131.15 319.38h0.7M130.65 319.38a2.75 2.75 0 1 0 5.5 0a2.75 2.75 0 1 0 -5.5 0M133.05 319.38h0.7M132.45 319.38a2.75 2.75 0 1 0 5.5 0a2.75 2.75 0 1 0 -5.5 0M134.85 319.38h0.7M133.95 319.38a2.75 2.75 0 1 0 5.5 0a2.75 2.75 0 1 0 -5.5 0M136.35 319.38h0.7M135.55 319.38a2.75 2.75 0 1 0 5.5 0a2.75 2.75 0 1 0 -5.5 0M137.95 319.38h0.7M137.65 319.38a2.75 2.75 0 1 0 5.5 0a2.75 2.75 0 1 0 -5.5 0M140.05 319.38h0.7M139.35 319.38a2.75 2.75 0 1 0 5.5 0a2.75 2.75 0 1 0 -5.5 0M141.75 319.38h0.7M148.55 319.38a2.75 2.75 0 1 0 5.5 0a2.75 2.75 0 1 0 -5.5 0M150.95 319.38h0.7M151.75 319.38a2.75 2.75 0 1 0 5.5 0a2.75 2.75 0 1 0 -5.5 0M154.15 319.38h0.7M154.55 319.38a2.75 2.75 0 1 0 5.5 0a2.75 2.75 0 1 0 -5.5 0M156.95 319.38h0.7M156.55 319.38a2.75 2.75 0 1 0 5.5 0a2.75 2.75 0 1 0 -5.5 0M158.95 319.38h0.7M160.45 319.38a2.75 2.75 0 1 0 5.5 0a2.75 2.75 0 1 0 -5.5 0M162.85 319.38h0.7M162.25 319.38a2.75 2.75 0 1 0 5.5 0a2.75 2.75 0 1 0 -5.5 0M164.65 319.38h0.7M165.25 319.38a2.75 2.75 0 1 0 5.5 0a2.75 2.75 0 1 0 -5.5 0M167.65 319.38h0.7M169.25 319.38a2.75 2.75 0 1 0 5.5 0a2.75 2.75 0 1 0 -5.5 0M171.65 319.38h0.7M171.95 319.38a2.75 2.75 0 1 0 5.5 0a2.75 2.75 0 1 0 -5.5 0M174.35 319.38h0.7M172.45 319.38a2.75 2.75 0 1 0 5.5 0a2.75 2.75 0 1 0 -5.5 0M174.85 319.38h0.7M175.75 319.38a2.75 2.75 0 1 0 5.5 0a2.75 2.75 0 1 0 -5.5 0M178.15 319.38h0.7M178.55 319.38a2.75 2.75 0 1 0 5.5 0a2.75 2.75 0 1 0 -5.5 0M180.95 319.38h0.7M179.75 319.38a2.75 2.75 0 1 0 5.5 0a2.75 2.75 0 1 0 -5.5 0M182.15 319.38h0.7M182.55 319.38a2.75 2.75 0 1 0 5.5 0a2.75 2.75 0 1 0 -5.5 0M184.95 319.38h0.7M186.65 319.38a2.75 2.75 0 1 0 5.5 0a2.75 2.75 0 1 0 -5.5 0M189.05 319.38h0.7M188.75 319.38a2.75 2.75 0 1 0 5.5 0a2.75 2.75 0 1 0 -5.5 0M191.15 319.38h0.7M190.75 319.38a2.75 2.75 0 1 0 5.5 0a2.75 2.75 0 1 0 -5.5 0M193.15 319.38h0.7M192.85 319.38a2.75 2.75 0 1 0 5.5 0a2.75 2.75 0 1 0 -5.5 0M195.25 319.38h0.7M194.55 319.38a2.75 2.75 0 1 0 5.5 0a2.75 2.75 0 1 0 -5.5 0M196.95 319.38h0.7M196.55 319.38a2.75 2.75 0 1 0 5.5 0a2.75 2.75 0 1 0 -5.5 0M198.95 319.38h0.7M197.95 319.38a2.75 2.75 0 1 0 5.5 0a2.75 2.75 0 1 0 -5.5 0M200.35 319.38h0.7M203.65 319.38a2.75 2.75 0 1 0 5.5 0a2.75 2.75 0 1 0 -5.5 0M206.05 319.38h0.7M207.55 319.38a2.75 2.75 0 1 0 5.5 0a2.75 2.75 0 1 0 -5.5 0M209.95 319.38h0.7M209.65 319.38a2.75 2.75 0 1 0 5.5 0a2.75 2.75 0 1 0 -5.5 0M212.05 319.38h0.7M212.75 319.38a2.75 2.75 0 1 0 5.5 0a2.75 2.75 0 1 0 -5.5 0M215.15 319.38h0.7M214.45 319.38a2.75 2.75 0 1 0 5.5 0a2.75 2.75 0 1 0 -5.5 0M216.85 319.38h0.7M215.75 319.38a2.75 2.75 0 1 0 5.5 0a2.75 2.75 0 1 0 -5.5 0M218.15 319.38h0.7M217.45 319.38a2.75 2.75 0 1 0 5.5 0a2.75 2.75 0 1 0 -5.5 0M219.85 319.38h0.7M219.15 319.38a2.75 2.75 0 1 0 5.5 0a2.75 2.75 0 1 0 -5.5 0M221.55 319.38h0.7M220.85 319.38a2.75 2.75 0 1 0 5.5 0a2.75 2.75 0 1 0 -5.5 0M223.25 319.38h0.7M222.25 319.38a2.75 2.75 0 1 0 5.5 0a2.75 2.75 0 1 0 -5.5 0M224.65 319.38h0.7M223.85 319.38a2.75 2.75 0 1 0 5.5 0a2.75 2.75 0 1 0 -5.5 0M226.25 319.38h0.7M226.25 319.38a2.75 2.75 0 1 0 5.5 0a2.75 2.75 0 1 0 -5.5 0M228.65 319.38h0.7M231.45 319.38a2.75 2.75 0 1 0 5.5 0a2.75 2.75 0 1 0 -5.5 0M233.85 319.38h0.7M232.45 319.38a2.75 2.75 0 1 0 5.5 0a2.75 2.75 0 1 0 -5.5 0M234.85 319.38h0.7M238.15 319.38a2.75 2.75 0 1 0 5.5 0a2.75 2.75 0 1 0 -5.5 0M240.55 319.38h0.7M240.45 319.38a2.75 2.75 0 1 0 5.5 0a2.75 2.75 0 1 0 -5.5 0M242.85 319.38h0.7M241.95 319.38a2.75 2.75 0 1 0 5.5 0a2.75 2.75 0 1 0 -5.5 0M244.35 319.38h0.7M244.45 319.38a2.75 2.75 0 1 0 5.5 0a2.75 2.75 0 1 0 -5.5 0M246.85 319.38h0.7M246.55 319.38a2.75 2.75 0 1 0 5.5 0a2.75 2.75 0 1 0 -5.5 0M248.95 319.38h0.7M247.85 319.38a2.75 2.75 0 1 0 5.5 0a2.75 2.75 0 1 0 -5.5 0M250.25 319.38h0.7M248.95 319.38a2.75 2.75 0 1 0 5.5 0a2.75 2.75 0 1 0 -5.5 0M251.35 319.38h0.7M251.25 319.38a2.75 2.75 0 1 0 5.5 0a2.75 2.75 0 1 0 -5.5 0M253.65 319.38h0.7M253.55 319.38a2.75 2.75 0 1 0 5.5 0a2.75 2.75 0 1 0 -5.5 0M255.95 319.38h0.7M254.75 319.38a2.75 2.75 0 1 0 5.5 0a2.75 2.75 0 1 0 -5.5 0M257.15 319.38h0.7M256.55 319.38a2.75 2.75 0 1 0 5.5 0a2.75 2.75 0 1 0 -5.5 0M258.95 319.38h0.7M258.25 319.38a2.75 2.75 0 1 0 5.5 0a2.75 2.75 0 1 0 -5.5 0M260.65 319.38h0.7M259.45 319.38a2.75 2.75 0 1 0 5.5 0a2.75 2.75 0 1 0 -5.5 0M261.85 319.38h0.7M261.75 319.38a2.75 2.75 0 1 0 5.5 0a2.75 2.75 0 1 0 -5.5 0M264.15 319.38h0.7M262.95 319.38a2.75 2.75 0 1 0 5.5 0a2.75 2.75 0 1 0 -5.5 0M265.35 319.38h0.7M266.55 319.38a2.75 2.75 0 1 0 5.5 0a2.75 2.75 0 1 0 -5.5 0M268.95 319.38h0.7M275.15 319.38a2.75 2.75 0 1 0 5.5 0a2.75 2.75 0 1 0 -5.5 0M277.55 319.38h0.7M278.45 319.38a2.75 2.75 0 1 0 5.5 0a2.75 2.75 0 1 0 -5.5 0M280.85 319.38h0.7M284.75 319.38a2.75 2.75 0 1 0 5.5 0a2.75 2.75 0 1 0 -5.5 0M287.15 319.38h0.7M286.85 319.38a2.75 2.75 0 1 0 5.5 0a2.75 2.75 0 1 0 -5.5 0M289.25 319.38h0.7M291.75 319.38a2.75 2.75 0 1 0 5.5 0a2.75 2.75 0 1 0 -5.5 0M294.15 319.38h0.7M294.45 319.38a2.75 2.75 0 1 0 5.5 0a2.75 2.75 0 1 0 -5.5 0M296.85 319.38h0.7M299.25 319.38a2.75 2.75 0 1 0 5.5 0a2.75 2.75 0 1 0 -5.5 0M301.65 319.38h0.7M301.85 319.38a2.75 2.75 0 1 0 5.5 0a2.75 2.75 0 1 0 -5.5 0M304.25 319.38h0.7M302.65 319.38a2.75 2.75 0 1 0 5.5 0a2.75 2.75 0 1 0 -5.5 0M305.05 319.38h0.7M312.25 319.38a2.75 2.75 0 1 0 5.5 0a2.75 2.75 0 1 0 -5.5 0M314.65 319.38h0.7M313.25 319.38a2.75 2.75 0 1 0 5.5 0a2.75 2.75 0 1 0 -5.5 0M315.65 319.38h0.7M314.05 319.38a2.75 2.75 0 1 0 5.5 0a2.75 2.75 0 1 0 -5.5 0M316.45 319.38h0.7M316.55 319.38a2.75 2.75 0 1 0 5.5 0a2.75 2.75 0 1 0 -5.5 0M318.95 319.38h0.7M317.25 319.38a2.75 2.75 0 1 0 5.5 0a2.75 2.75 0 1 0 -5.5 0M319.65 319.38h0.7M321.65 319.38a2.75 2.75 0 1 0 5.5 0a2.75 2.75 0 1 0 -5.5 0M324.05 319.38h0.7M324.95 319.38a2.75 2.75 0 1 0 5.5 0a2.75 2.75 0 1 0 -5.5 0M327.35 319.38h0.7M330.15 319.38a2.75 2.75 0 1 0 5.5 0a2.75 2.75 0 1 0 -5.5 0M332.55 319.38h0.7M331.15 319.38a2.75 2.75 0 1 0 5.5 0a2.75 2.75 0 1 0 -5.5 0M333.55 319.38h0.7M334.35 319.38a2.75 2.75 0 1 0 5.5 0a2.75 2.75 0 1 0 -5.5 0M336.75 319.38h0.7M335.45 319.38a2.75 2.75 0 1 0 5.5 0a2.75 2.75 0 1 0 -5.5 0M337.85 319.38h0.7M337.25 319.38a2.75 2.75 0 1 0 5.5 0a2.75 2.75 0 1 0 -5.5 0M339.65 319.38h0.7M339.05 319.38a2.75 2.75 0 1 0 5.5 0a2.75 2.75 0 1 0 -5.5 0M341.45 319.38h0.7M339.75 319.38a2.75 2.75 0 1 0 5.5 0a2.75 2.75 0 1 0 -5.5 0M342.15 319.38h0.7M341.55 319.38a2.75 2.75 0 1 0 5.5 0a2.75 2.75 0 1 0 -5.5 0M343.95 319.38h0.7M345.65 319.38a2.75 2.75 0 1 0 5.5 0a2.75 2.75 0 1 0 -5.5 0M348.05 319.38h0.7M348.55 319.38a2.75 2.75 0 1 0 5.5 0a2.75 2.75 0 1 0 -5.5 0M350.95 319.38h0.7M352.75 319.38a2.75 2.75 0 1 0 5.5 0a2.75 2.75 0 1 0 -5.5 0M355.15 319.38h0.7M354.45 319.38a2.75 2.75 0 1 0 5.5 0a2.75 2.75 0 1 0 -5.5 0M356.85 319.38h0.7M359.85 319.38a2.75 2.75 0 1 0 5.5 0a2.75 2.75 0 1 0 -5.5 0M362.25 319.38h0.7M362.35 319.38a2.75 2.75 0 1 0 5.5 0a2.75 2.75 0 1 0 -5.5 0M364.75 319.38h0.7M366.05 319.38a2.75 2.75 0 1 0 5.5 0a2.75 2.75 0 1 0 -5.5 0M368.45 319.38h0.7M367.25 319.38a2.75 2.75 0 1 0 5.5 0a2.75 2.75 0 1 0 -5.5 0M369.65 319.38h0.7M369.45 319.38a2.75 2.75 0 1 0 5.5 0a2.75 2.75 0 1 0 -5.5 0M371.85 319.38h0.7M371.55 319.38a2.75 2.75 0 1 0 5.5 0a2.75 2.75 0 1 0 -5.5 0M373.95 319.38h0.7M372.35 319.38a2.75 2.75 0 1 0 5.5 0a2.75 2.75 0 1 0 -5.5 0M374.75 319.38h0.7M374.05 319.38a2.75 2.75 0 1 0 5.5 0a2.75 2.75 0 1 0 -5.5 0M376.45 319.38h0.7M377.75 319.38a2.75 2.75 0 1 0 5.5 0a2.75 2.75 0 1 0 -5.5 0M380.15 319.38h0.7M379.45 319.38a2.75 2.75 0 1 0 5.5 0a2.75 2.75 0 1 0 -5.5 0M381.85 319.38h0.7M381.05 319.38a2.75 2.75 0 1 0 5.5 0a2.75 2.75 0 1 0 -5.5 0M383.45 319.38h0.7M383.15 319.38a2.75 2.75 0 1 0 5.5 0a2.75 2.75 0 1 0 -5.5 0M385.55 319.38h0.7M385.25 319.38a2.75 2.75 0 1 0 5.5 0a2.75 2.75 0 1 0 -5.5 0M387.65 319.38h0.7M387.75 319.38a2.75 2.75 0 1 0 5.5 0a2.75 2.75 0 1 0 -5.5 0M390.15 319.38h0.7M389.05 319.38a2.75 2.75 0 1 0 5.5 0a2.75 2.75 0 1 0 -5.5 0M391.45 319.38h0.7M391.05 319.38a2.75 2.75 0 1 0 5.5 0a2.75 2.75 0 1 0 -5.5 0M393.45 319.38h0.7M392.25 319.38a2.75 2.75 0 1 0 5.5 0a2.75 2.75 0 1 0 -5.5 0M394.65 319.38h0.7M395.55 319.38a2.75 2.75 0 1 0 5.5 0a2.75 2.75 0 1 0 -5.5 0M397.95 319.38h0.7M398.05 319.38a2.75 2.75 0 1 0 5.5 0a2.75 2.75 0 1 0 -5.5 0M400.45 319.38h0.7M399.75 319.38a2.75 2.75 0 1 0 5.5 0a2.75 2.75 0 1 0 -5.5 0M402.15 319.38h0.7M401.85 319.38a2.75 2.75 0 1 0 5.5 0a2.75 2.75 0 1 0 -5.5 0M404.25 319.38h0.7M403.05 319.38a2.75 2.75 0 1 0 5.5 0a2.75 2.75 0 1 0 -5.5 0M405.45 319.38h0.7M404.75 319.38a2.75 2.75 0 1 0 5.5 0a2.75 2.75 0 1 0 -5.5 0M407.15 319.38h0.7M406.05 319.38a2.75 2.75 0 1 0 5.5 0a2.75 2.75 0 1 0 -5.5 0M408.45 319.38h0.7M408.95 319.38a2.75 2.75 0 1 0 5.5 0a2.75 2.75 0 1 0 -5.5 0M411.35 319.38h0.7M410.15 319.38a2.75 2.75 0 1 0 5.5 0a2.75 2.75 0 1 0 -5.5 0M412.55 319.38h0.7M411.85 319.38a2.75 2.75 0 1 0 5.5 0a2.75 2.75 0 1 0 -5.5 0M414.25 319.38h0.7M418.55 319.38a2.75 2.75 0 1 0 5.5 0a2.75 2.75 0 1 0 -5.5 0M420.95 319.38h0.7M420.55 319.38a2.75 2.75 0 1 0 5.5 0a2.75 2.75 0 1 0 -5.5 0M422.95 319.38h0.7M425.15 319.38a2.75 2.75 0 1 0 5.5 0a2.75 2.75 0 1 0 -5.5 0M427.55 319.38h0.7M426.45 319.38a2.75 2.75 0 1 0 5.5 0a2.75 2.75 0 1 0 -5.5 0M428.85 319.38h0.7M427.25 319.38a2.75 2.75 0 1 0 5.5 0a2.75 2.75 0 1 0 -5.5 0M429.65 319.38h0.7M560.7 192.1a2.75 2.75 0 1 0 5.5 0a2.75 2.75 0 1 0 -5.5 0M563.1 192.1h0.7" fill="none" stroke="#ffff00" stroke-width="0.8"/>
<path d="M104.25 154.02a2.65 2.65 0 1 0 5.3 0a2.65 2.65 0 1 0 -5.3 0zM104.95 154.02a2.65 2.65 0 1 0 5.3 0a2.65 2.65 0 1 0 -5.3 0zM107.05 154.01a2.65 2.65 0 1 0 5.3 0a2.65 2.65 0 1 0 -5.3 0zM107.65 154.01a2.65 2.65 0 1 0 5.3 0a2.65 2.65 0 1 0 -5.3 0zM112.25 153.96a2.65 2.65 0 1 0 5.3 0a2.65 2.65 0 1 0 -5.3 0zM112.95 153.94a2.65 2.65 0 1 0 5.3 0a2.65 2.65 0 1 0 -5.3 0zM115.15 153.9a2.65 2.65 0 1 0 5.3 0a2.65 2.65 0 1 0 -5.3 0zM116.05 153.88a2.65 2.65 0 1 0 5.3 0a2.65 2.65 0 1 0 -5.3 0zM122.75 153.69a2.65 2.65 0 1 0 5.3 0a2.65 2.65 0 1 0 -5.3 0zM124.35 153.64a2.65 2.65 0 1 0 5.3 0a2.65 2.65 0 1 0 -5.3 0zM125.45 153.59a2.65 2.65 0 1 0 5.3 0a2.65 2.65 0 1 0 -5.3 0zM126.95 153.53a2.65 2.65 0 1 0 5.3 0a2.65 2.65 0 1 0 -5.3 0zM128.85 153.45a2.65 2.65 0 1 0 5.3 0a2.65 2.65 0 1 0 -5.3 0zM130.75 153.36a2.65 2.65 0 1 0 5.3 0a2.65 2.65 0 1 0 -5.3 0zM132.55 153.27a2.65 2.65 0 1 0 5.3 0a2.65 2.65 0 1 0 -5.3 0zM134.05 153.19a2.65 2.65 0 1 0 5.3 0a2.65 2.65 0 1 0 -5.3 0zM135.65 153.1a2.65 2.65 0 1 0 5.3 0a2.65 2.65 0 1 0 -5.3 0zM137.75 152.97a2.65 2.65 0 1 0 5.3 0a2.65 2.65 0 1 0 -5.3 0zM139.45 152.87a2.65 2.65 0 1 0 5.3 0a2.65 2.65 0 1 0 -5.3 0zM148.65 152.2a2.65 2.65 0 1 0 5.3 0a2.65 2.65 0 1 0 -5.3 0zM151.85 151.93a2.65 2.65 0 1 0 5.3 0a2.65 2.65 0 1 0 -5.3 0zM154.65 151.68a2.65 2.65 0 1 0 5.3 0a2.65 2.65 0 1 0 -5.3 0zM156.65 151.49a2.65 2.65 0 1 0 5.3 0a2.65 2.65 0 1 0 -5.3 0zM160.55 151.1a2.65 2.65 0 1 0 5.3 0a2.65 2.65 0 1 0 -5.3 0zM162.35 150.92a2.65 2.65 0 1 0 5.3 0a2.65 2.65 0 1 0 -5.3 0zM165.35 150.59a2.65 2.65 0 1 0 5.3 0a2.65 2.65 0 1 0 -5.3 0zM169.35 150.13a2.65 2.65 0 1 0 5.3 0a2.65 2.65 0 1 0 -5.3 0zM172.05 149.81a2.65 2.65 0 1 0 5.3 0a2.65 2.65 0 1 0 -5.3 0zM172.55 149.74a2.65 2.65 0 1 0 5.3 0a2.65 2.65 0 1 0 -5.3 0zM175.85 149.33a2.65 2.65 0 1 0 5.3 0a2.65 2.65 0 1 0 -5.3 0zM178.65 148.95a2.65 2.65 0 1 0 5.3 0a2.65 2.65 0 1 0 -5.3 0zM179.85 148.79a2.65 2.65 0 1 0 5.3 0a2.65 2.65 0 1 0 -5.3 0zM182.65 148.4a2.65 2.65 0 1 0 5.3 0a2.65 2.65 0 1 0 -5.3 0zM186.75 147.8a2.65 2.65 0 1 0 5.3 0a2.65 2.65 0 1 0 -5.3 0zM188.85 147.48a2.65 2.65 0 1 0 5.3 0a2.65 2.65 0 1 0 -5.3 0zM190.85 147.17a2.65 2.65 0 1 0 5.3 0a2.65 2.65 0 1 0 -5.3 0zM192.95 146.84a2.65 2.65 0 1 0 5.3 0a2.65 2.65 0 1 0 -5.3 0zM194.65 146.56a2.65 2.65 0 1 0 5.3 0a2.65 2.65 0 1 0 -5.3 0zM196.65 146.23a2.65 2.65 0 1 0 5.3 0a2.65 2.65 0 1 0 -5.3 0zM198.05 146a2.65 2.65 0 1 0 5.3 0a2.65 2.65 0 1 0 -5.3 0zM203.75 145a2.65 2.65 0 1 0 5.3 0a2.65 2.65 0 1 0 -5.3 0zM207.65 144.28a2.65 2.65 0 1 0 5.3 0a2.65 2.65 0 1 0 -5.3 0zM209.75 143.89a2.65 2.65 0 1 0 5.3 0a2.65 2.65 0 1 0 -5.3 0zM212.85 143.29a2.65 2.65 0 1 0 5.3 0a2.65 2.65 0 1 0 -5.3 0zM214.55 142.95a2.65 2.65 0 1 0 5.3 0a2.65 2.65 0 1 0 -5.3 0zM215.85 142.69a2.65 2.65 0 1 0 5.3 0a2.65 2.65 0 1 0 -5.3 0zM217.55 142.34a2.65 2.65 0 1 0 5.3 0a2.65 2.65 0 1 0 -5.3 0zM219.25 141.99a2.65 2.65 0 1 0 5.3 0a2.65 2.65 0 1 0 -5.3 0zM220.95 141.64a2.65 2.65 0 1 0 5.3 0a2.65 2.65 0 1 0 -5.3 0zM222.35 141.34a2.65 2.65 0 1 0 5.3 0a2.65 2.65 0 1 0 -5.3 0zM223.95 140.99a2.65 2.65 0 1 0 5.3 0a2.65 2.65 0 1 0 -5.3 0zM226.35 140.47a2.65 2.65 0 1 0 5.3 0a2.65 2.65 0 1 0 -5.3 0zM231.55 139.3a2.65 2.65 0 1 0 5.3 0a2.65 2.65 0 1 0 -5.3 0zM232.55 139.07a2.65 2.65 0 1 0 5.3 0a2.65 2.65 0 1 0 -5.3 0zM238.25 137.72a2.65 2.65 0 1 0 5.3 0a2.65 2.65 0 1 0 -5.3 0zM240.55 137.15a2.65 2.65 0 1 0 5.3 0a2.65 2.65 0 1 0 -5.3 0zM242.05 136.78a2.65 2.65 0 1 0 5.3 0a2.65 2.65 0 1 0 -5.3 0zM244.55 136.15a2.65 2.65 0 1 0 5.3 0a2.65 2.65 0 1 0 -5.3 0zM246.65 135.62a2.65 2.65 0 1 0 5.3 0a2.65 2.65 0 1 0 -5.3 0zM247.95 135.28a2.65 2.65 0 1 0 5.3 0a2.65 2.65 0 1 0 -5.3 0zM249.05 135a2.65 2.65 0 1 0 5.3 0a2.65 2.65 0 1 0 -5.3 0zM251.35 134.39a2.65 2.65 0 1 0 5.3 0a2.65 2.65 0 1 0 -5.3 0zM253.65 133.77a2.65 2.65 0 1 0 5.3 0a2.65 2.65 0 1 0 -5.3 0zM254.85 133.45a2.65 2.65 0 1 0 5.3 0a2.65 2.65 0 1 0 -5.3 0zM256.65 132.96a2.65 2.65 0 1 0 5.3 0a2.65 2.65 0 1 0 -5.3 0zM258.35 132.49a2.65 2.65 0 1 0 5.3 0a2.65 2.65 0 1 0 -5.3 0zM259.55 132.15a2.65 2.65 0 1 0 5.3 0a2.65 2.65 0 1 0 -5.3 0zM261.85 131.5a2.65 2.65 0 1 0 5.3 0a2.65 2.65 0 1 0 -5.3 0zM263.05 131.16a2.65 2.65 0 1 0 5.3 0a2.65 2.65 0 1 0 -5.3 0zM266.65 130.11a2.65 2.65 0 1 0 5.3 0a2.65 2.65 0 1 0 -5.3 0zM275.25 127.53a2.65 2.65 0 1 0 5.3 0a2.65 2.65 0 1 0 -5.3 0zM278.55 126.5a2.65 2.65 0 1 0 5.3 0a2.65 2.65 0 1 0 -5.3 0zM284.85 124.48a2.65 2.65 0 1 0 5.3 0a2.65 2.65 0 1 0 -5.3 0zM286.95 123.79a2.65 2.65 0 1 0 5.3 0a2.65 2.65 0 1 0 -5.3 0zM291.85 122.15a2.65 2.65 0 1 0 5.3 0a2.65 2.65 0 1 0 -5.3 0zM294.55 121.23a2.65 2.65 0 1 0 5.3 0a2.65 2.65 0 1 0 -5.3 0zM299.35 119.57a2.65 2.65 0 1 0 5.3 0a2.65 2.65 0 1 0 -5.3 0zM301.95 118.64a2.65 2.65 0 1 0 5.3 0a2.65 2.65 0 1 0 -5.3 0zM302.75 118.36a2.65 2.65 0 1 0 5.3 0a2.65 2.65 0 1 0 -5.3 0zM312.35 114.84a2.65 2.65 0 1 0 5.3 0a2.65 2.65 0 1 0 -5.3 0zM313.35 114.46a2.65 2.65 0 1 0 5.3 0a2.65 2.65 0 1 0 -5.3 0zM314.15 114.16a2.65 2.65 0 1 0 5.3 0a2.65 2.65 0 1 0 -5.3 0zM316.65 113.21a2.65 2.65 0 1 0 5.3 0a2.65 2.65 0 1 0 -5.3 0zM317.35 112.94a2.65 2.65 0 1 0 5.3 0a2.65 2.65 0 1 0 -5.3 0zM321.75 111.23a2.65 2.65 0 1 0 5.3 0a2.65 2.65 0 1 0 -5.3 0zM325.05 109.93a2.65 2.65 0 1 0 5.3 0a2.65 2.65 0 1 0 -5.3 0zM330.25 107.83a2.65 2.65 0 1 0 5.3 0a2.65 2.65 0 1 0 -5.3 0zM331.25 107.42a2.65 2.65 0 1 0 5.3 0a2.65 2.65 0 1 0 -5.3 0zM334.45 106.1a2.65 2.65 0 1 0 5.3 0a2.65 2.65 0 1 0 -5.3 0zM335.55 105.65a2.65 2.65 0 1 0 5.3 0a2.65 2.65 0 1 0 -5.3 0zM337.35 104.89a2.65 2.65 0 1 0 5.3 0a2.65 2.65 0 1 0 -5.3 0zM339.15 104.13a2.65 2.65 0 1 0 5.3 0a2.65 2.65 0 1 0 -5.3 0zM339.85 103.84a2.65 2.65 0 1 0 5.3 0a2.65 2.65 0 1 0 -5.3 0zM341.65 103.07a2.65 2.65 0 1 0 5.3 0a2.65 2.65 0 1 0 -5.3 0zM345.75 101.3a2.65 2.65 0 1 0 5.3 0a2.65 2.65 0 1 0 -5.3 0zM348.65 100.03a2.65 2.65 0 1 0 5.3 0a2.65 2.65 0 1 0 -5.3 0zM352.85 98.16a2.65 2.65 0 1 0 5.3 0a2.65 2.65 0 1 0 -5.3 0zM354.55 97.4a2.65 2.65 0 1 0 5.3 0a2.65 2.65 0 1 0 -5.3 0zM359.95 94.93a2.65 2.65 0 1 0 5.3 0a2.65 2.65 0 1 0 -5.3 0zM362.45 93.78a2.65 2.65 0 1 0 5.3 0a2.65 2.65 0 1 0 -5.3 0zM366.15 92.04a2.65 2.65 0 1 0 5.3 0a2.65 2.65 0 1 0 -5.3 0zM367.35 91.47a2.65 2.65 0 1 0 5.3 0a2.65 2.65 0 1 0 -5.3 0zM369.55 90.43a2.65 2.65 0 1 0 5.3 0a2.65 2.65 0 1 0 -5.3 0zM371.65 89.42a2.65 2.65 0 1 0 5.3 0a2.65 2.65 0 1 0 -5.3 0zM372.45 89.03a2.65 2.65 0 1 0 5.3 0a2.65 2.65 0 1 0 -5.3 0zM374.15 88.21a2.65 2.65 0 1 0 5.3 0a2.65 2.65 0 1 0 -5.3 0zM377.85 86.4a2.65 2.65 0 1 0 5.3 0a2.65 2.65 0 1 0 -5.3 0zM379.55 85.56a2.65 2.65 0 1 0 5.3 0a2.65 2.65 0 1 0 -5.3 0zM381.15 84.76a2.65 2.65 0 1 0 5.3 0a2.65 2.65 0 1 0 -5.3 0zM383.25 83.71a2.65 2.65 0 1 0 5.3 0a2.65 2.65 0 1 0 -5.3 0zM385.35 82.65a2.65 2.65 0 1 0 5.3 0a2.65 2.65 0 1 0 -5.3 0zM387.85 81.38a2.65 2.65 0 1 0 5.3 0a2.65 2.65 0 1 0 -5.3 0zM389.15 80.71a2.65 2.65 0 1 0 5.3 0a2.65 2.65 0 1 0 -5.3 0zM391.15 79.68a2.65 2.65 0 1 0 5.3 0a2.65 2.65 0 1 0 -5.3 0zM392.35 79.06a2.65 2.65 0 1 0 5.3 0a2.65 2.65 0 1 0 -5.3 0zM395.65 77.33a2.65 2.65 0 1 0 5.3 0a2.65 2.65 0 1 0 -5.3 0zM398.15 76.02a2.65 2.65 0 1 0 5.3 0a2.65 2.65 0 1 0 -5.3 0zM399.85 75.11a2.65 2.65 0 1 0 5.3 0a2.65 2.65 0 1 0 -5.3 0zM401.95 73.99a2.65 2.65 0 1 0 5.3 0a2.65 2.65 0 1 0 -5.3 0zM403.15 73.35a2.65 2.65 0 1 0 5.3 0a2.65 2.65 0 1 0 -5.3 0zM404.85 72.43a2.65 2.65 0 1 0 5.3 0a2.65 2.65 0 1 0 -5.3 0zM406.15 71.72a2.65 2.65 0 1 0 5.3 0a2.65 2.65 0 1 0 -5.3 0zM409.05 70.14a2.65 2.65 0 1 0 5.3 0a2.65 2.65 0 1 0 -5.3 0zM410.25 69.48a2.65 2.65 0 1 0 5.3 0a2.65 2.65 0 1 0 -5.3 0zM411.95 68.54a2.65 2.65 0 1 0 5.3 0a2.65 2.65 0 1 0 -5.3 0zM418.65 64.78a2.65 2.65 0 1 0 5.3 0a2.65 2.65 0 1 0 -5.3 0zM420.65 63.65a2.65 2.65 0 1 0 5.3 0a2.65 2.65 0 1 0 -5.3 0zM425.25 61a2.65 2.65 0 1 0 5.3 0a2.65 2.65 0 1 0 -5.3 0zM426.55 60.25a2.65 2.65 0 1 0 5.3 0a2.65 2.65 0 1 0 -5.3 0zM427.35 59.79a2.65 2.65 0 1 0 5.3 0a2.65 2.65 0 1 0 -5.3 0zM560.8 220.5a2.65 2.65 0 1 0 5.3 0a2.65 2.65 0 1 0 -5.3 0z" fill="#000000" stroke="none"/>
</svg>
<div class="t yl" style="top:9.33px">2e-07</div>
<div class="t yl" style="top:45.37px">1.5e-07</div>
<div class="t yl" style="top:81.41px">1e-07</div>
<div class="t yl" style="top:117.45px">5e-08</div>
<div class="t yl" style="top:153.49px">0</div>
<div class="t yl" style="top:189.53px">-5e-08</div>
<div class="t yl" style="top:225.57px">-1e-07</div>
<div class="t yl" style="top:261.61px">-1.5e-07</div>
<div class="t yl" style="top:297.65px">-2e-07</div>
<div class="t yl" style="top:333.69px">-2.5e-07</div>
<div class="t yl" style="top:369.73px">-3e-07</div>
<div class="t xl" style="left:78.20px;top:384.33px">0</div>
<div class="t xl" style="left:111.03px;top:384.33px">0.02</div>
<div class="t xl" style="left:143.86px;top:384.33px">0.04</div>
<div class="t xl" style="left:176.69px;top:384.33px">0.06</div>
<div class="t xl" style="left:209.52px;top:384.33px">0.08</div>
<div class="t xl" style="left:242.35px;top:384.33px">0.1</div>
<div class="t xl" style="left:275.18px;top:384.33px">0.12</div>
<div class="t xl" style="left:308.01px;top:384.33px">0.14</div>
<div class="t xl" style="left:340.84px;top:384.33px">0.16</div>
<div class="t xl" style="left:373.67px;top:384.33px">0.18</div>
<div class="t xl" style="left:406.50px;top:384.33px">0.2</div>
<div class="t lg" style="top:21.63px;color:#000">Legend</div>
<div class="t lg" style="top:42.03px;color:#ff0000">CH-R</div>
<div class="t lg" style="top:70.23px;color:#00ff00">CS-R</div>
<div class="t lg" style="top:98.33px;color:#0000ff">NS-R</div>
<div class="t lg" style="top:126.53px;color:#ff00ff">C<span class="s">R-11</span>(Mw)</div>
<div class="t lg" style="top:154.53px;color:#00ffff">C<span class="s">R-7</span>(Mw)</div>
<div class="t lg" style="top:182.73px;color:#ffff00">C<span class="s">L-7</span>(Mb)</div>
<div class="t lg" style="top:211.33px;color:#000">C<span class="s">R-7</span>(Mb)</div>
<div class="t" style="left:0;top:0;width:140px;text-align:center;letter-spacing:0.09px;transform-origin:0 0;transform:translate(19.80px,196.70px) rotate(-90deg) translate(-70px,-12.67px)">Wilson Coefficients</div>
<div class="t" style="left:232.90px;top:404.63px;font-size:15.6px;color:#111">λ</div>
<div class="t" style="left:241.80px;top:397.00px;font-size:10px">'</div>
<div class="t" style="left:243.50px;top:410.23px;font-size:11.4px">233</div>
<div class="t" style="left:266.30px;top:406.63px">=</div>
<div class="t" style="left:278.60px;top:404.63px;font-size:15.6px;color:#111">λ</div>
<div class="t" style="left:287.20px;top:397.00px;font-size:10px">'</div>
<div class="t" style="left:289.40px;top:410.23px;font-size:11.4px">232</div>
</body></html>
